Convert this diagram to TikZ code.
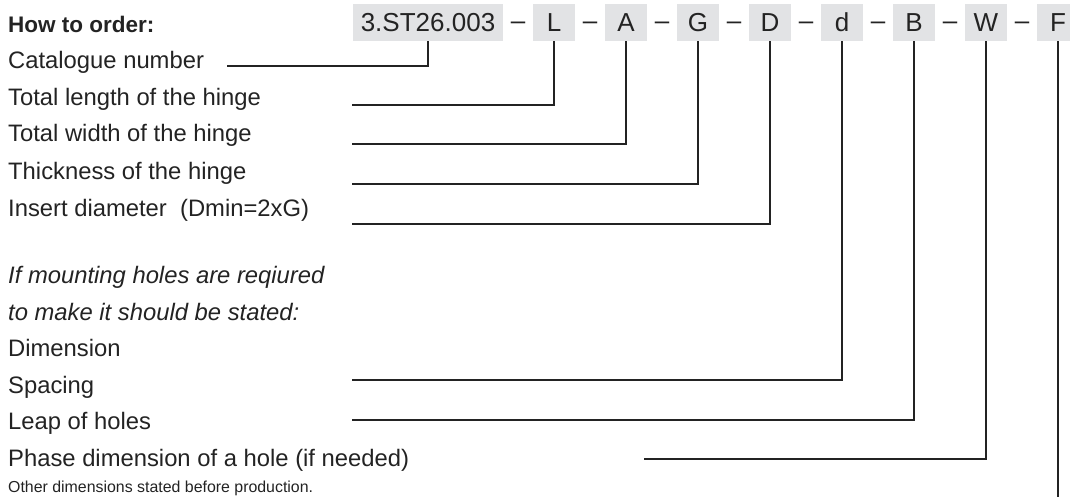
\documentclass[tikz,border=0pt]{standalone}
\usepackage{fontspec}
\setmainfont{Liberation Sans}
\definecolor{ink}{HTML}{232323}
\definecolor{boxgray}{HTML}{E2E3E5}
\tikzset{
  lbl/.style={anchor=base west, inner sep=0pt, text=ink, font=\fontsize{23.8}{28}\selectfont},
  small/.style={anchor=base west, inner sep=0pt, text=ink, font=\fontsize{15.9}{18}\selectfont},
  code/.style={fill=boxgray, inner sep=0pt, minimum height=37pt, text=ink,
    font=\fontsize{26}{30}\selectfont, text height=18.6pt, text depth=0pt},
  sep/.style={anchor=base, inner sep=0pt, text=ink, font=\fontsize{26}{30}\selectfont},
  conn/.style={draw=ink, line width=2pt, line join=miter}
}
\begin{document}
\begin{tikzpicture}[x=1pt,y=-1pt]
\useasboundingbox (0,0) rectangle (1070,497);
% header
\node[lbl, font=\fontsize{22.5}{27}\selectfont\bfseries] (how) at (8,33) {How to order:};
% code boxes
\node[code, minimum width=150pt] (cat) at (428,22.5) {3.ST26.003};
\node[code, minimum width=42pt] (L) at (554,22.5) {L};
\node[code, minimum width=42pt] (A) at (626,22.5) {A};
\node[code, minimum width=42pt] (G) at (698,22.5) {G};
\node[code, minimum width=42pt] (D) at (770,22.5) {D};
\node[code, minimum width=42pt] (d) at (842,22.5) {d};
\node[code, minimum width=42pt] (B) at (914,22.5) {B};
\node[code, minimum width=42pt] (W) at (986,22.5) {W};
\node[code, minimum width=42pt] (F) at (1058,22.5) {F};
% separators
\node[sep] (s1) at (518,30) {–};
\node[sep] (s2) at (590,30) {–};
\node[sep] (s3) at (662,30) {–};
\node[sep] (s4) at (734,30) {–};
\node[sep] (s5) at (806,30) {–};
\node[sep] (s6) at (878,30) {–};
\node[sep] (s7) at (950,30) {–};
\node[sep] (s8) at (1022,30) {–};
% left texts
\node[lbl] (t1) at (8,69) {Catalogue number};
\node[lbl] (t2) at (8,106) {Total length of the hinge};
\node[lbl] (t3) at (8,142) {Total width of the hinge};
\node[lbl] (t4) at (8,179) {Thickness of the hinge};
\node[lbl] (t5) at (8,216) {Insert diameter\ \ (Dmin=2xG)};
\node[lbl, font=\fontsize{23.8}{28}\selectfont\itshape] (t6) at (8,283) {If mounting holes are reqiured};
\node[lbl, font=\fontsize{23.8}{28}\selectfont\itshape] (t7) at (8,320) {to make it should be stated:};
\node[lbl] (t8) at (8,356) {Dimension};
\node[lbl] (t9) at (8,393) {Spacing};
\node[lbl] (t10) at (8,429) {Leap of holes};
\node[lbl] (t11) at (8,466) {Phase dimension of a hole (if needed)};
\node[small] (t12) at (8,492) {Other dimensions stated before production.};
% connector ends
\coordinate (e1) at (227,66);
\coordinate (e2) at (352,105);
\coordinate (e3) at (352,144);
\coordinate (e4) at (352,184);
\coordinate (e5) at (352,224);
\coordinate (e6) at (352,380);
\coordinate (e7) at (352,420);
\coordinate (e8) at (644,459);
\coordinate (e9) at (1058,510);
% connectors
\draw[conn] (cat.south) |- (e1);
\draw[conn] (L.south) |- (e2);
\draw[conn] (A.south) |- (e3);
\draw[conn] (G.south) |- (e4);
\draw[conn] (D.south) |- (e5);
\draw[conn] (d.south) |- (e6);
\draw[conn] (B.south) |- (e7);
\draw[conn] (W.south) |- (e8);
\draw[conn] (F.south) -- (e9);
\end{tikzpicture}
\end{document}
